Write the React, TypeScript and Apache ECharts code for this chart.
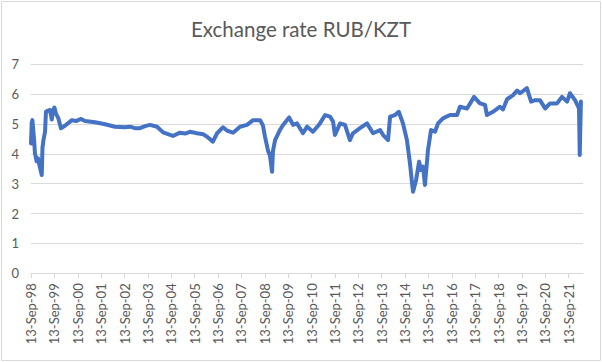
import React, { useEffect, useRef } from "react";
import * as echarts from "echarts";

const years: number[] = [
  1998.70, 1998.73, 1998.76, 1998.83, 1998.87, 1998.94, 1999.00, 1999.06, 1999.16, 1999.19,
  1999.23, 1999.30, 1999.34, 1999.43, 1999.51, 1999.59, 1999.64, 1999.70, 1999.77, 1999.87,
  1999.98, 2000.15, 2000.45, 2000.62, 2000.84, 2001.01, 2001.44, 2001.87, 2002.29, 2002.72,
  2002.93, 2003.15, 2003.36, 2003.58, 2003.79, 2004.09, 2004.35, 2004.56, 2004.77, 2005.07,
  2005.29, 2005.50, 2005.80, 2006.06, 2006.27, 2006.48, 2006.66, 2006.91, 2007.08, 2007.34,
  2007.64, 2007.94, 2008.20, 2008.50, 2008.62, 2008.71, 2008.84, 2008.92, 2009.01, 2009.05,
  2009.14, 2009.35, 2009.48, 2009.74, 2009.91, 2010.08, 2010.33, 2010.51, 2010.76, 2011.06,
  2011.28, 2011.49, 2011.62, 2011.70, 2011.92, 2012.13, 2012.34, 2012.47, 2012.77, 2013.07,
  2013.33, 2013.63, 2013.76, 2013.97, 2014.06, 2014.27, 2014.43, 2014.61, 2014.78, 2014.91,
  2015.00, 2015.04, 2015.17, 2015.30, 2015.38, 2015.47, 2015.55, 2015.68, 2015.81, 2015.98,
  2016.11, 2016.32, 2016.62, 2016.92, 2017.05, 2017.35, 2017.65, 2017.90, 2018.12, 2018.20,
  2018.46, 2018.76, 2018.89, 2019.06, 2019.32, 2019.49, 2019.62, 2019.91, 2020.09, 2020.26,
  2020.47, 2020.69, 2020.90, 2021.20, 2021.41, 2021.63, 2021.75, 2021.97, 2022.14, 2022.17,
  2022.22,
];

// RUB/KZT exchange rate values
const rates: number[] = [
  4.35, 5.05, 5.13, 4.5, 4.02, 3.75, 3.85, 3.62, 3.29, 4.2,
  4.45, 4.74, 5.41, 5.45, 5.47, 5.15, 5.45, 5.55, 5.35, 5.19,
  4.86, 4.94, 5.13, 5.1, 5.17, 5.1, 5.06, 4.99, 4.91, 4.89,
  4.91, 4.86, 4.86, 4.93, 4.97, 4.91, 4.72, 4.66, 4.6, 4.71,
  4.68, 4.74, 4.69, 4.66, 4.55, 4.41, 4.69, 4.89, 4.78, 4.71,
  4.91, 4.97, 5.13, 5.13, 4.95, 4.57, 4.1, 3.95, 3.4, 4.1,
  4.46, 4.8, 4.97, 5.22, 4.97, 5.02, 4.69, 4.91, 4.74, 5.02,
  5.3, 5.25, 5.08, 4.63, 5.02, 4.97, 4.46, 4.69, 4.86, 5.02,
  4.69, 4.8, 4.63, 4.46, 5.25, 5.3, 5.41, 5.02, 4.46, 3.68,
  3.01, 2.73, 3.12, 3.74, 3.46, 3.57, 2.96, 4.13, 4.8, 4.74,
  5.02, 5.19, 5.3, 5.3, 5.58, 5.52, 5.91, 5.69, 5.64, 5.3,
  5.41, 5.58, 5.49, 5.83, 5.97, 6.12, 6.03, 6.2, 5.75, 5.8,
  5.8, 5.52, 5.69, 5.69, 5.91, 5.75, 6.03, 5.8, 5.52, 3.96,
  5.75,
];

// Axis start (13-Sep-1998 as decimal year) and end
const startYear = 1998.70;
const endYear = 2022.31;

const xTickLabels: string[] = [
  "13-Sep-98", "13-Sep-99", "13-Sep-00", "13-Sep-01", "13-Sep-02", "13-Sep-03",
  "13-Sep-04", "13-Sep-05", "13-Sep-06", "13-Sep-07", "13-Sep-08", "13-Sep-09",
  "13-Sep-10", "13-Sep-11", "13-Sep-12", "13-Sep-13", "13-Sep-14", "13-Sep-15",
  "13-Sep-16", "13-Sep-17", "13-Sep-18", "13-Sep-19", "13-Sep-20", "13-Sep-21",
];

const titleText = "Exchange rate RUB/KZT";

export default function App() {
  const ref = useRef<HTMLDivElement>(null);

  useEffect(() => {
    document.body.style.margin = "0";
    if (!ref.current) return;
    const chart = echarts.init(ref.current, undefined, { renderer: "svg" });
    const data = years.map((y, i) => [y - startYear, rates[i]]);
    const tickValues = xTickLabels.map((_, i) => i);
    const textColor = "#595959";
    const gridColor = "#d9d9d9";
    chart.setOption({
      animation: false,
      backgroundColor: "#ffffff",
      graphic: [
        {
          type: "rect",
          shape: { x: 1.5, y: 1.5, width: 599, height: 359 },
          style: { fill: "none", stroke: gridColor, lineWidth: 1 },
          silent: true,
        },
        {
          type: "text",
          x: 301,
          y: 29,
          style: {
            text: titleText,
            fill: textColor,
            font: "20.5px Lato",
            textAlign: "center",
            textVerticalAlign: "middle",
          },
        },
      ],
      grid: {
        left: 31,
        right: 19,
        top: 64.3,
        bottom: 88.7,
        containLabel: false,
        outerBoundsMode: "none",
      },
      xAxis: {
        type: "value",
        min: 0,
        max: endYear - startYear,
        interval: 1,
        axisLine: { show: true, lineStyle: { color: gridColor, width: 1 } },
        axisTick: {
          show: true,
          length: 5,
          inside: false,
          lineStyle: { color: gridColor },
          customValues: tickValues,
        },
        axisLabel: {
          rotate: 90,
          margin: 10,
          color: textColor,
          fontFamily: "Lato",
          fontSize: 13,
          customValues: tickValues,
          formatter: (v: number) => xTickLabels[Math.round(v)] ?? "",
        },
        splitLine: { show: false },
      },
      yAxis: {
        type: "value",
        min: 0,
        max: 7,
        interval: 1,
        axisLine: { show: false },
        axisTick: { show: false },
        axisLabel: {
          margin: 12,
          color: textColor,
          fontFamily: "Lato",
          fontSize: 13,
        },
        splitLine: { show: true, lineStyle: { color: gridColor, width: 1 } },
      },
      series: [
        {
          type: "line",
          data,
          showSymbol: false,
          symbol: "none",
          lineStyle: { color: "#4472C4", width: 4, join: "round", cap: "round" },
          itemStyle: { color: "#4472C4" },
        },
      ],
    });
    return () => chart.dispose();
  }, []);

  return <div ref={ref} style={{ width: 602, height: 362 }} />;
}
